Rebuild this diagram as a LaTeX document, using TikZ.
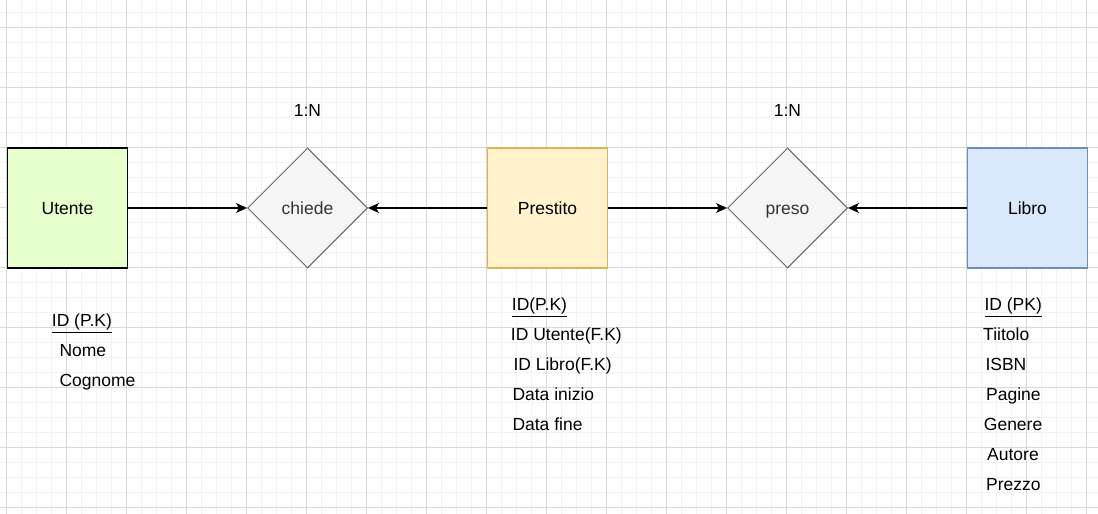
\documentclass[tikz,border=0pt]{standalone}
\usepackage{fontspec}
\setmainfont{Liberation Sans}
\usetikzlibrary{shapes.geometric,arrows.meta}
\definecolor{gridminor}{HTML}{F2F2F2}
\definecolor{gridmajor}{HTML}{D8D8D8}
\definecolor{utfill}{HTML}{E6FFCC}
\definecolor{prfill}{HTML}{FFF2CC}
\definecolor{prdraw}{HTML}{D6B656}
\definecolor{lbfill}{HTML}{DAE8FC}
\definecolor{lbdraw}{HTML}{6C8EBF}
\definecolor{rlfill}{HTML}{F5F5F5}
\definecolor{rldraw}{HTML}{666666}
\definecolor{rltext}{HTML}{333333}
\begin{document}
\begin{tikzpicture}[x=1pt,y=-1pt,
  every node/.style={font=\fontsize{17.5}{20}\selectfont},
  entity/.style={rectangle,minimum width=120pt,minimum height=120pt,inner sep=0pt,line width=1.3pt,text height=12.5pt,text depth=0.5pt},
  relation/.style={diamond,aspect=1,minimum width=120pt,minimum height=120pt,inner sep=0pt,fill=rlfill,draw=rldraw,line width=1pt,text=rltext,text height=12.5pt,text depth=0.5pt},
  attr/.style={anchor=base west,inner sep=0pt},
  conn/.style={line width=1.4pt,-{Stealth[length=11pt,width=10pt,inset=3pt]}}]
\useasboundingbox (0,0) rectangle (1098,514);
\fill[white] (0,0) rectangle (1098,514);
% grid
\foreach \x in {-8.5,6.5,...,1100} \draw[gridminor,line width=1pt] (\x,0) -- (\x,514);
\foreach \y in {-2.7,12.3,...,520} \draw[gridminor,line width=1pt] (0,\y) -- (1098,\y);
\foreach \x in {6.5,66.5,...,1100} \draw[gridmajor,line width=1pt] (\x,0) -- (\x,514);
\foreach \y in {27.3,87.3,...,520} \draw[gridmajor,line width=1pt] (0,\y) -- (1098,\y);
% entities
\node[entity,fill=utfill,draw=black] (utente) at (67.5,208) {Utente};
\node[entity,fill=prfill,draw=prdraw] (prestito) at (547.5,208) {Prestito};
\node[entity,fill=lbfill,draw=lbdraw] (libro) at (1027.5,208) {Libro};
% relations
\node[relation] (chiede) at (307.5,208) {chiede};
\node[relation] (preso) at (787.5,208) {preso};
% cardinalities
\node (card1) at (307.5,110) {1:N};
\node (card2) at (787.5,110) {1:N};
% connectors
\draw[conn] (utente.east) -- (chiede.west);
\draw[conn] (prestito.west) -- (chiede.east);
\draw[conn] (prestito.east) -- (preso.west);
\draw[conn] (libro.west) -- (preso.east);
% attributes Utente
\node[attr] (u1) at (51.7,326.7) {\underline{ID (P.K)}};
\node[attr] (u2) at (59.3,356.7) {Nome};
\node[attr] (u3) at (59.3,386.7) {Cognome};
% attributes Prestito
\node[attr] (p1) at (511.7,310.7) {\underline{ID(P.K)}};
\node[attr] (p2) at (510.7,340.7) {ID Utente(F.K)};
\node[attr] (p3) at (513.3,370.7) {ID Libro(F.K)};
\node[attr] (p4) at (512.3,400.7) {Data inizio};
\node[attr] (p5) at (512.3,430.7) {Data fine};
% attributes Libro
\node[attr] (l1) at (984.3,310.7) {\underline{ID (PK)}};
\node[attr] (l2) at (983,340.7) {Tiitolo};
\node[attr] (l3) at (985.3,370.7) {ISBN};
\node[attr] (l4) at (986,400.7) {Pagine};
\node[attr] (l5) at (983.7,430.7) {Genere};
\node[attr] (l6) at (987,460.7) {Autore};
\node[attr] (l7) at (986,490.7) {Prezzo};
\end{tikzpicture}
\end{document}
